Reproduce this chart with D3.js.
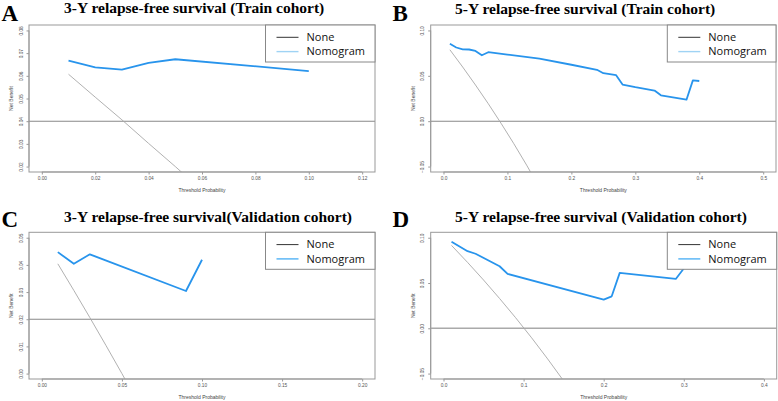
<!DOCTYPE html>
<html>
<head>
<meta charset="utf-8">
<script src="https://cdn.jsdelivr.net/npm/d3@7"></script>
<style>
  html, body { margin: 0; padding: 0; background: #fff; }
  svg { display: block; }
</style>
</head>
<body>
<svg id="chart" width="778" height="401"></svg>
<script>
// ---------- Data ----------
const panelLetters = ["A", "B", "C", "D"];
const panelTitles = [
  "3-Y relapse-free survival (Train cohort)",
  "5-Y relapse-free survival (Train cohort)",
  "3-Y relapse-free survival(Validation cohort)",
  "5-Y relapse-free survival (Validation cohort)"
];
const legendLabels = ["None", "Nomogram"];
const xAxisLabel = "Threshold Probability";
const yAxisLabel = "Net Benefit";

// x tick labels
const xTicksA = [0.00, 0.02, 0.04, 0.06, 0.08, 0.10, 0.12];
const xTicksB = [0.0, 0.1, 0.2, 0.3, 0.4, 0.5];
const xTicksC = [0.00, 0.05, 0.10, 0.15, 0.20];
const xTicksD = [0.0, 0.1, 0.2, 0.3, 0.4];
// y tick labels
const yTicksA = [0.02, 0.03, 0.04, 0.05, 0.06, 0.07, 0.08];
const yTicksB = [-0.05, 0.00, 0.05, 0.10];
const yTicksC = [0.00, 0.01, 0.02, 0.03, 0.04, 0.05];
const yTicksD = [-0.05, 0.00, 0.05, 0.10];

// "None" reference level (horizontal line)
const noneLevel = [0.04, 0.00, 0.02, 0.00];

// Nomogram net benefit
const nomoThreshA = [0.01, 0.02, 0.03, 0.04, 0.05, 0.10];
const nomoBenefitA = [0.0667, 0.0637, 0.0627, 0.0657, 0.0673, 0.0621];

const nomoThreshB = [0.01, 0.02, 0.03, 0.04, 0.05, 0.06, 0.07, 0.10, 0.15, 0.20, 0.24, 0.25, 0.27, 0.28, 0.30, 0.33, 0.34, 0.38, 0.39, 0.40];
const nomoBenefitB = [0.0853, 0.0812, 0.0792, 0.0790, 0.0774, 0.0727, 0.0760, 0.0734, 0.0690, 0.0622, 0.0566, 0.0529, 0.0507, 0.0404, 0.0375, 0.0338, 0.0285, 0.0237, 0.0450, 0.0443];

const nomoThreshC = [0.01, 0.02, 0.03, 0.09, 0.10];
const nomoBenefitC = [0.0447, 0.0404, 0.0439, 0.0304, 0.0419];

const nomoThreshD = [0.01, 0.03, 0.04, 0.07, 0.08, 0.20, 0.21, 0.22, 0.29, 0.30, 0.31];
const nomoBenefitD = [0.0956, 0.0851, 0.0823, 0.0685, 0.0601, 0.0316, 0.0353, 0.0612, 0.0545, 0.0660, 0.0720];

// "All" (treat-all) net benefit, grey diagonal
const allThreshA = [0.01, 0.02, 0.03, 0.04, 0.05, 0.06];
const allBenefitA = [0.0607, 0.0506, 0.0406, 0.0302, 0.0200, 0.0095];

const allThreshB = [0.01, 0.03, 0.05, 0.07, 0.09, 0.11, 0.13, 0.15];
const allBenefitB = [0.0787, 0.0597, 0.0399, 0.0193, -0.0023, -0.0248, -0.0484, -0.0731];

const allThreshC = [0.01, 0.02, 0.03, 0.04, 0.05, 0.06];
const allBenefitC = [0.0404, 0.0306, 0.0206, 0.0104, 0.0000, -0.0106];

const allThreshD = [0.01, 0.03, 0.05, 0.07, 0.09, 0.11, 0.13, 0.15];
const allBenefitD = [0.0915, 0.0728, 0.0533, 0.0329, 0.0117, -0.0105, -0.0338, -0.0581];

// ---------- Layout ----------
const svg = d3.select("#chart");

const panels = [
  { letter: panelLetters[0], title: panelTitles[0], box: [29, 25, 375, 172], xTicks: xTicksA, yTicks: yTicksA, xFmt: ".2f", yFmt: ".2f",
    none: noneLevel[0], nx: nomoThreshA, ny: nomoBenefitA, ax: allThreshA, ay: allBenefitA,
    letterPos: [1.5, 20.5], titlePos: [64, 13], legendW: 109.5, legendCol: "#9fd3f4" },
  { letter: panelLetters[1], title: panelTitles[1], box: [430.7, 25, 776, 172], xTicks: xTicksB, yTicks: yTicksB, xFmt: ".1f", yFmt: ".2f",
    none: noneLevel[1], nx: nomoThreshB, ny: nomoBenefitB, ax: allThreshB, ay: allBenefitB,
    letterPos: [392.5, 20.5], titlePos: [455, 13.5], legendW: 108.7, legendCol: "#9fd3f4" },
  { letter: panelLetters[2], title: panelTitles[2], box: [29, 232.3, 375, 379], xTicks: xTicksC, yTicks: yTicksC, xFmt: ".2f", yFmt: ".2f",
    none: noneLevel[2], nx: nomoThreshC, ny: nomoBenefitC, ax: allThreshC, ay: allBenefitC,
    letterPos: [1.5, 226.5], titlePos: [64, 221.5], legendW: 109.5, legendCol: "#52b2f5" },
  { letter: panelLetters[3], title: panelTitles[3], box: [430.7, 232.3, 776.7, 379], xTicks: xTicksD, yTicks: yTicksD, xFmt: ".1f", yFmt: ".2f",
    none: noneLevel[3], nx: nomoThreshD, ny: nomoBenefitD, ax: allThreshD, ay: allBenefitD,
    letterPos: [392.5, 227], titlePos: [455, 222], legendW: 109.4, legendCol: "#52b2f5" }
];

panels.forEach((p, i) => {
  const [L, T, R, B] = p.box;
  const xmin = p.xTicks[0], xmax = p.xTicks[p.xTicks.length - 1];
  const ymin = p.yTicks[0], ymax = p.yTicks[p.yTicks.length - 1];
  const xr = xmax - xmin, yr = ymax - ymin;
  const x = d3.scaleLinear().domain([xmin - 0.04 * xr, xmax + 0.04 * xr]).range([L, R]);
  const y = d3.scaleLinear().domain([ymin - 0.04 * yr, ymax + 0.04 * yr]).range([B, T]);

  const g = svg.append("g");

  // panel letter and title
  g.append("text").attr("x", p.letterPos[0]).attr("y", p.letterPos[1])
    .attr("font-family", "Liberation Serif, Times New Roman, serif").attr("font-weight", "bold")
    .attr("font-size", 23).attr("fill", "#000").text(p.letter);
  g.append("text").attr("x", p.titlePos[0]).attr("y", p.titlePos[1])
    .attr("font-family", "Liberation Serif, Times New Roman, serif").attr("font-weight", "bold")
    .attr("font-size", 15.5).attr("fill", "#000").text(p.title);

  // clip
  const clipId = "clip" + i;
  svg.append("clipPath").attr("id", clipId).append("rect")
    .attr("x", L).attr("y", T).attr("width", R - L).attr("height", B - T);

  // axes
  const xAxis = d3.axisBottom(x).tickValues(p.xTicks).tickFormat(d3.format(p.xFmt)).tickSize(2.5).tickSizeOuter(0).tickPadding(2);
  const gx = g.append("g").attr("transform", `translate(0,${B})`).call(xAxis);
  gx.select(".domain").attr("d", `M${x(xmin)},0H${x(xmax)}`).attr("stroke", "#999");
  gx.selectAll(".tick line").attr("stroke", "#999");
  gx.selectAll(".tick text").attr("font-size", 4.8).attr("fill", "#555")
    .attr("font-family", "Liberation Sans, Arial, sans-serif");

  const yAxis = d3.axisLeft(y).tickValues(p.yTicks).tickFormat(d3.format(p.yFmt)).tickSize(2.5).tickSizeOuter(0).tickPadding(2);
  const gy = g.append("g").attr("transform", `translate(${L},0)`).call(yAxis);
  gy.select(".domain").attr("d", `M0,${y(ymin)}V${y(ymax)}`).attr("stroke", "#999");
  gy.selectAll(".tick line").attr("stroke", "#999");
  gy.selectAll(".tick text").attr("font-size", 4.8).attr("fill", "#555")
    .attr("font-family", "Liberation Sans, Arial, sans-serif")
    .attr("x", null).attr("dy", null)
    .attr("text-anchor", "middle")
    .attr("transform", "translate(-6.5,0) rotate(-90)");

  // axis titles
  g.append("text").attr("x", (L + R) / 2).attr("y", B + 19.5).attr("text-anchor", "middle")
    .attr("font-size", 5).attr("fill", "#444").attr("font-family", "Liberation Sans, Arial, sans-serif")
    .text(xAxisLabel);
  g.append("text").attr("transform", `translate(${L - 16},${(T + B) / 2}) rotate(-90)`).attr("text-anchor", "middle")
    .attr("font-size", 5).attr("fill", "#444").attr("font-family", "Liberation Sans, Arial, sans-serif")
    .text(yAxisLabel);

  const plot = g.append("g").attr("clip-path", `url(#${clipId})`);

  // None line
  plot.append("line").attr("x1", L).attr("x2", R).attr("y1", y(p.none)).attr("y2", y(p.none))
    .attr("stroke", i === 3 ? "#aaa" : "#888").attr("stroke-width", i === 3 ? 1.6 : 1.1);

  // All line
  const line = d3.line().x(d => x(d[0])).y(d => y(d[1]));
  plot.append("path").datum(p.ax.map((v, k) => [v, p.ay[k]]))
    .attr("d", line).attr("fill", "none").attr("stroke", "#a8a8a8").attr("stroke-width", 0.9);

  // Nomogram line
  plot.append("path").datum(p.nx.map((v, k) => [v, p.ny[k]]))
    .attr("d", line).attr("fill", "none").attr("stroke", "#2894ec").attr("stroke-width", 1.8)
    .attr("stroke-linejoin", "round");

  // box
  g.append("rect").attr("x", L).attr("y", T).attr("width", R - L).attr("height", B - T)
    .attr("fill", "none").attr("stroke", "#999").attr("stroke-width", 1);

  // legend
  const lw = p.legendW, lh = 37;
  const lx = R - lw, ly = T;
  const lg = g.append("g");
  lg.append("rect").attr("x", lx).attr("y", ly).attr("width", lw).attr("height", lh)
    .attr("fill", "#fff").attr("stroke", "#888").attr("stroke-width", 1);
  const legCols = ["#333", p.legendCol];
  legendLabels.forEach((lab, k) => {
    const yy = ly + 12.3 + k * 14.3;
    lg.append("line").attr("x1", lx + 11).attr("x2", lx + 33).attr("y1", yy).attr("y2", yy)
      .attr("stroke", legCols[k]).attr("stroke-width", k === 0 ? 1 : 1.4);
    lg.append("text").attr("x", lx + 41).attr("y", yy + 3.8)
      .attr("font-family", "Open Sans, Lato, sans-serif").attr("font-size", 11)
      .attr("fill", "#111").text(lab);
  });
});
</script>
</body>
</html>
